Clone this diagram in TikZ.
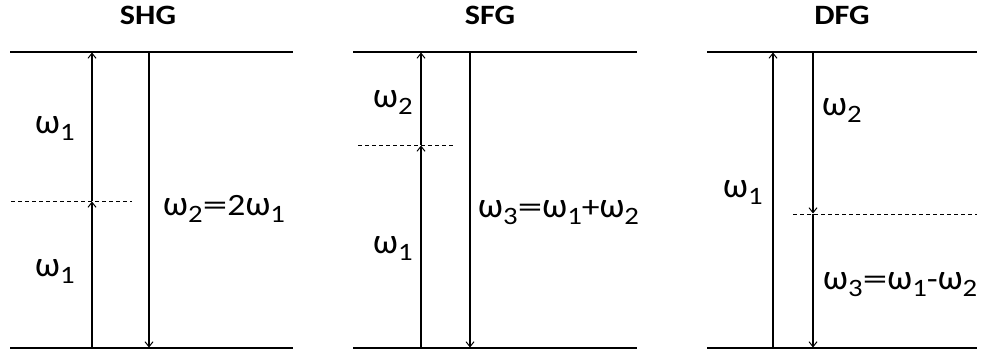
\documentclass[tikz,border=0pt]{standalone}
\usepackage{fontspec}
\setmainfont{Carlito}[FakeStretch=1.15]
\usetikzlibrary{arrows.meta}
\newcommand{\lsub}[1]{\raisebox{-7pt}{\fontsize{25}{25}\selectfont #1}}
\newcommand{\om}{\scalebox{1}[1.15]{ω}}
\newcommand{\eqs}{\scalebox{1.4}[1]{=}}
\begin{document}
\begin{tikzpicture}[x=1pt,y=-1pt,
  level/.style={line width=2.2pt},
  virt/.style={line width=1pt,dash pattern=on 4pt off 3pt},
  trans/.style={line width=1.1pt,-{Straight Barb[length=5pt,width=8pt,line width=1pt]},shorten >=0.5pt},
  title/.style={font=\fontsize{28}{28}\selectfont\bfseries,inner sep=0pt,anchor=base},
  lab/.style={font=\fontsize{31}{31}\selectfont,inner sep=0pt,anchor=base west}]
\useasboundingbox (0,0) rectangle (986,353);
% ---------- SHG ----------
\node[title] (t1) at (148,25) {SHG};
\coordinate (a1L) at (10,52);  \coordinate (a1R) at (293,52);
\coordinate (b1L) at (10,348); \coordinate (b1R) at (293,348);
\coordinate (v1L) at (11,201); \coordinate (v1R) at (132,201);
\draw[level] (a1L) -- (a1R);
\draw[level] (b1L) -- (b1R);
\draw[virt] (v1L) -- (v1R);
\coordinate (u1b) at (92,348); \coordinate (u1m) at (92,201); \coordinate (u1t) at (92,52);
\coordinate (d1t) at (149,52); \coordinate (d1b) at (149,348);
\draw[trans] (u1b) -- (u1m);
\draw[trans] (u1m) -- (u1t);
\draw[trans] (d1t) -- (d1b);
\node[lab] (l11) at (35,133) {\om\lsub{1}};
\node[lab] (l12) at (35,276) {\om\lsub{1}};
\node[lab] (l13) at (163,215) {\om\lsub{2}\eqs2\om\lsub{1}};
% ---------- SFG ----------
\node[title] (t2) at (490,25) {SFG};
\coordinate (a2L) at (353,52);  \coordinate (a2R) at (637,52);
\coordinate (b2L) at (353,348); \coordinate (b2R) at (637,348);
\coordinate (v2L) at (358,145); \coordinate (v2R) at (455,145);
\draw[level] (a2L) -- (a2R);
\draw[level] (b2L) -- (b2R);
\draw[virt] (v2L) -- (v2R);
\coordinate (u2b) at (421,348); \coordinate (u2m) at (421,145); \coordinate (u2t) at (421,52);
\coordinate (d2t) at (470,52); \coordinate (d2b) at (470,348);
\draw[trans] (u2b) -- (u2m);
\draw[trans] (u2m) -- (u2t);
\draw[trans] (d2t) -- (d2b);
\node[lab] (l21) at (373,107) {\om\lsub{2}};
\node[lab] (l22) at (373,253) {\om\lsub{1}};
\node[lab] (l23) at (478,217) {\om\lsub{3}\eqs\om\lsub{1}+\om\lsub{2}};
% ---------- DFG ----------
\node[title] (t3) at (842,25) {DFG};
\coordinate (a3L) at (707,52);  \coordinate (a3R) at (977,52);
\coordinate (b3L) at (707,348); \coordinate (b3R) at (977,348);
\coordinate (v3L) at (793,214); \coordinate (v3R) at (977,214);
\draw[level] (a3L) -- (a3R);
\draw[level] (b3L) -- (b3R);
\draw[virt] (v3L) -- (v3R);
\coordinate (u3b) at (773,348); \coordinate (u3t) at (773,52);
\coordinate (d3t) at (813,52); \coordinate (d3m) at (813,214); \coordinate (d3b) at (813,348);
\draw[trans] (u3b) -- (u3t);
\draw[trans] (d3t) -- (d3m);
\draw[trans] (d3m) -- (d3b);
\node[lab] (l31) at (723,197) {\om\lsub{1}};
\node[lab] (l32) at (822,115) {\om\lsub{2}};
\node[lab] (l33) at (823,289) {\om\lsub{3}\eqs\om\lsub{1}-\om\lsub{2}};
\end{tikzpicture}
\end{document}
